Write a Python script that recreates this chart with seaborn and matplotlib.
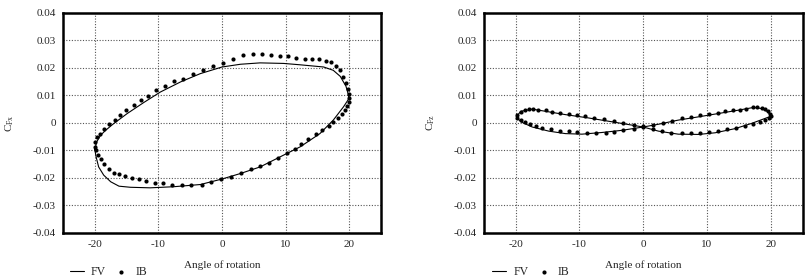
'''CFx / CFz hysteresis loops, FV vs IB'''
import numpy as np
import pandas as pd
import seaborn as sns
import matplotlib
matplotlib.use('Agg')
import matplotlib.pyplot as plt

# FV loop for CFx (angle, value), traced around the loop
fv_x_angle = [-20.0, -19.7, -19.1, -18.3, -17.0, -14.9, -12.3, -9.7, -6.5, -3.4,
              0.0, 2.9, 6.0, 9.7, 12.3, 16.0, 17.5, 18.6, 19.5, 19.9,
              19.9, 19.1, 17.5, 15.4, 12.3, 9.7, 6.0, 2.9, 0.0, -3.4,
              -7.6, -11.3, -14.4, -16.2, -17.5, -18.6, -19.4, -19.8, -20.0]
fv_x_val = [-0.0097, -0.0069, -0.0045, -0.0027, -0.0002, 0.0034, 0.0074, 0.0112, 0.0149, 0.0179,
            0.0203, 0.0213, 0.0218, 0.0216, 0.0211, 0.0203, 0.0191, 0.0169, 0.0133, 0.0100,
            0.0086, 0.0058, 0.0010, -0.0039, -0.0087, -0.0117, -0.0160, -0.0184, -0.0204, -0.0224,
            -0.0232, -0.0236, -0.0234, -0.0230, -0.0214, -0.0190, -0.0160, -0.0123, -0.0097]

# IB points for CFx
ib_x_angle = [-20.0, -19.9, -19.6, -19.2, -18.6, -17.7, -16.9, -16.1, -15.1, -13.9,
              -12.8, -11.6, -10.4, -9.0, -7.6, -6.1, -4.6, -3.0, -1.4, 0.1,
              1.8, 3.3, 4.8, 6.3, 7.7, 9.1, 10.4, 11.7, 13.0, 14.2,
              15.3, 16.3, 17.1, 17.9, 18.6, 19.1, 19.5, 19.8, 20.0, 20.0,
              19.9, 19.6, 19.3, 18.8, 18.2, 17.5, 16.8, 15.8, 14.8, 13.6,
              12.5, 11.5, 10.3, 8.8, 7.4, 6.0, 4.5, 3.0, 1.4, -0.1,
              -1.7, -3.2, -4.8, -6.3, -7.9, -9.3, -10.6, -11.9, -13.1, -14.2,
              -15.3, -16.2, -17.0, -17.8, -18.5, -19.1, -19.5, -19.8]
ib_x_val = [-0.0087, -0.0069, -0.0053, -0.0039, -0.0021, -0.0005, 0.0012, 0.0028, 0.0045, 0.0064,
            0.0082, 0.0098, 0.0118, 0.0134, 0.0151, 0.0161, 0.0176, 0.0191, 0.0205, 0.0219,
            0.0233, 0.0245, 0.0249, 0.0249, 0.0245, 0.0243, 0.0242, 0.0237, 0.0233, 0.0232,
            0.0231, 0.0226, 0.0221, 0.0208, 0.0191, 0.0167, 0.0145, 0.0124, 0.0106, 0.0092,
            0.0076, 0.0060, 0.0046, 0.0031, 0.0016, 0.0002, -0.0012, -0.0027, -0.0042, -0.0060,
            -0.0077, -0.0094, -0.0111, -0.0127, -0.0144, -0.0156, -0.0168, -0.0181, -0.0197, -0.0204,
            -0.0215, -0.0224, -0.0226, -0.0227, -0.0224, -0.0220, -0.0219, -0.0211, -0.0205, -0.0199,
            -0.0193, -0.0187, -0.0181, -0.0166, -0.0150, -0.0133, -0.0115, -0.0099]

# FV loop for CFz (figure-eight)
fv_z_angle = [-19.9, -19.2, -17.4, -15.3, -12.2, -8.6, -4.9, -1.8, 0.0, 2.4,
              5.5, 8.7, 11.3, 14.4, 17.0, 19.1, 20.0, 19.6, 18.6, 17.3,
              14.9, 11.8, 8.7, 5.5, 2.4, 0.0, -3.3, -6.5, -9.6, -12.2,
              -14.8, -17.4, -19.2, -19.9]
fv_z_val = [0.0022, 0.0042, 0.0050, 0.0042, 0.0030, 0.0018, 0.0004, -0.0008, -0.0015, -0.0030,
            -0.0041, -0.0042, -0.0036, -0.0021, -0.0002, 0.0016, 0.0024, 0.0040, 0.0052, 0.0056,
            0.0046, 0.0034, 0.0022, 0.0010, -0.0005, -0.0015, -0.0027, -0.0035, -0.0041, -0.0039,
            -0.0030, -0.0015, 0.0004, 0.0022]

# IB points for CFz
ib_z_angle = [-19.8, -19.2, -18.6, -17.9, -17.3, -16.5, -15.3, -14.3, -13.0, -11.7,
              -10.4, -9.1, -7.7, -6.1, -4.6, -3.1, -1.5, 0.0, 1.6, 2.9,
              4.3, 6.1, 7.5, 8.9, 10.3, 11.7, 13.1, 14.5, 16.0, 17.3,
              18.3, 19.1, 19.8, 20.0, 19.9, 19.6, 19.1, 18.6, 17.9, 17.2,
              16.2, 15.2, 14.1, 12.9, 11.8, 10.3, 8.9, 7.5, 6.1, 4.5,
              3.1, 1.6, 0.0, -1.5, -3.1, -4.5, -5.9, -7.4, -8.8, -10.3,
              -11.7, -13.1, -14.4, -15.8, -16.8, -17.7, -18.6, -19.2, -19.8]
ib_z_val = [0.0028, 0.0040, 0.0046, 0.0050, 0.0050, 0.0048, 0.0045, 0.0040, 0.0036, 0.0031,
            0.0028, 0.0024, 0.0019, 0.0013, 0.0007, 0.0000, -0.0008, -0.0015, -0.0024, -0.0030,
            -0.0035, -0.0036, -0.0036, -0.0035, -0.0033, -0.0030, -0.0024, -0.0018, -0.0011, -0.0005,
            0.0004, 0.0010, 0.0016, 0.0025, 0.0034, 0.0042, 0.0050, 0.0054, 0.0056, 0.0056,
            0.0052, 0.0048, 0.0046, 0.0042, 0.0037, 0.0031, 0.0027, 0.0022, 0.0016, 0.0007,
            0.0001, -0.0006, -0.0012, -0.0021, -0.0027, -0.0033, -0.0035, -0.0035, -0.0035, -0.0034,
            -0.0031, -0.0028, -0.0023, -0.0017, -0.0011, -0.0005, 0.0002, 0.0010, 0.0017]

x_ticks = [-20, -10, 0, 10, 20]
y_ticks = [-0.04, -0.03, -0.02, -0.01, 0, 0.01, 0.02, 0.03, 0.04]
y_labels = ['-0.04', '-0.03', '-0.02', '-0.01', '0', '0.01', '0.02', '0.03', '0.04']


def panel(fig, ax, fv_a, fv_v, ib_a, ib_v, ylab, leg_x):
    fv = pd.DataFrame({'angle': fv_a, 'val': fv_v})
    ib = pd.DataFrame({'angle': ib_a, 'val': ib_v})
    sns.lineplot(data=fv, x='angle', y='val', sort=False, estimator=None,
                 color='black', lw=0.8, label='FV', ax=ax)
    sns.scatterplot(data=ib, x='angle', y='val', color='black', s=9,
                    linewidth=0, label='IB', ax=ax)
    ax.set_xlim(-25, 25)
    ax.set_ylim(-0.04, 0.04)
    ax.set_xticks(x_ticks)
    ax.set_xticklabels([str(t) for t in x_ticks])
    ax.set_yticks(y_ticks)
    ax.set_yticklabels(y_labels)
    ax.tick_params(length=0, labelsize=8, pad=5)
    ax.grid(True, ls=(0, (1, 1.5)), color='#555555', lw=0.8)
    for s in ax.spines.values():
        s.set_linewidth(1.8)
        s.set_color('black')
    ax.set_xlabel('Angle of rotation', fontsize=8, labelpad=8)
    ax.set_ylabel(ylab, fontsize=8, labelpad=12)
    ax.legend(loc='lower left', bbox_to_anchor=(leg_x, 0.0),
              bbox_transform=fig.transFigure, ncol=2,
              frameon=False, fontsize=8.5, handlelength=1.2, columnspacing=0.7,
              handletextpad=0.6, borderaxespad=0, borderpad=0)


def main():
    sns.set_style('white')
    plt.rcParams['font.family'] = ['Liberation Serif', 'DejaVu Serif']
    plt.rcParams['mathtext.fontset'] = 'custom'
    plt.rcParams['mathtext.rm'] = 'Liberation Serif'

    fig = plt.figure(figsize=(8.09, 2.78), dpi=100)
    ax1 = fig.add_axes([0.0779, 0.162, 0.393, 0.792])
    ax2 = fig.add_axes([0.598, 0.162, 0.394, 0.792])

    panel(fig, ax1, fv_x_angle, fv_x_val, ib_x_angle, ib_x_val,
          r'C$_{\mathrm{Fx}}$', 0.086)
    panel(fig, ax2, fv_z_angle, fv_z_val, ib_z_angle, ib_z_val,
          r'C$_{\mathrm{Fz}}$', 0.608)

    fig.savefig('out.png', dpi=100)


if __name__ == '__main__':
    main()
